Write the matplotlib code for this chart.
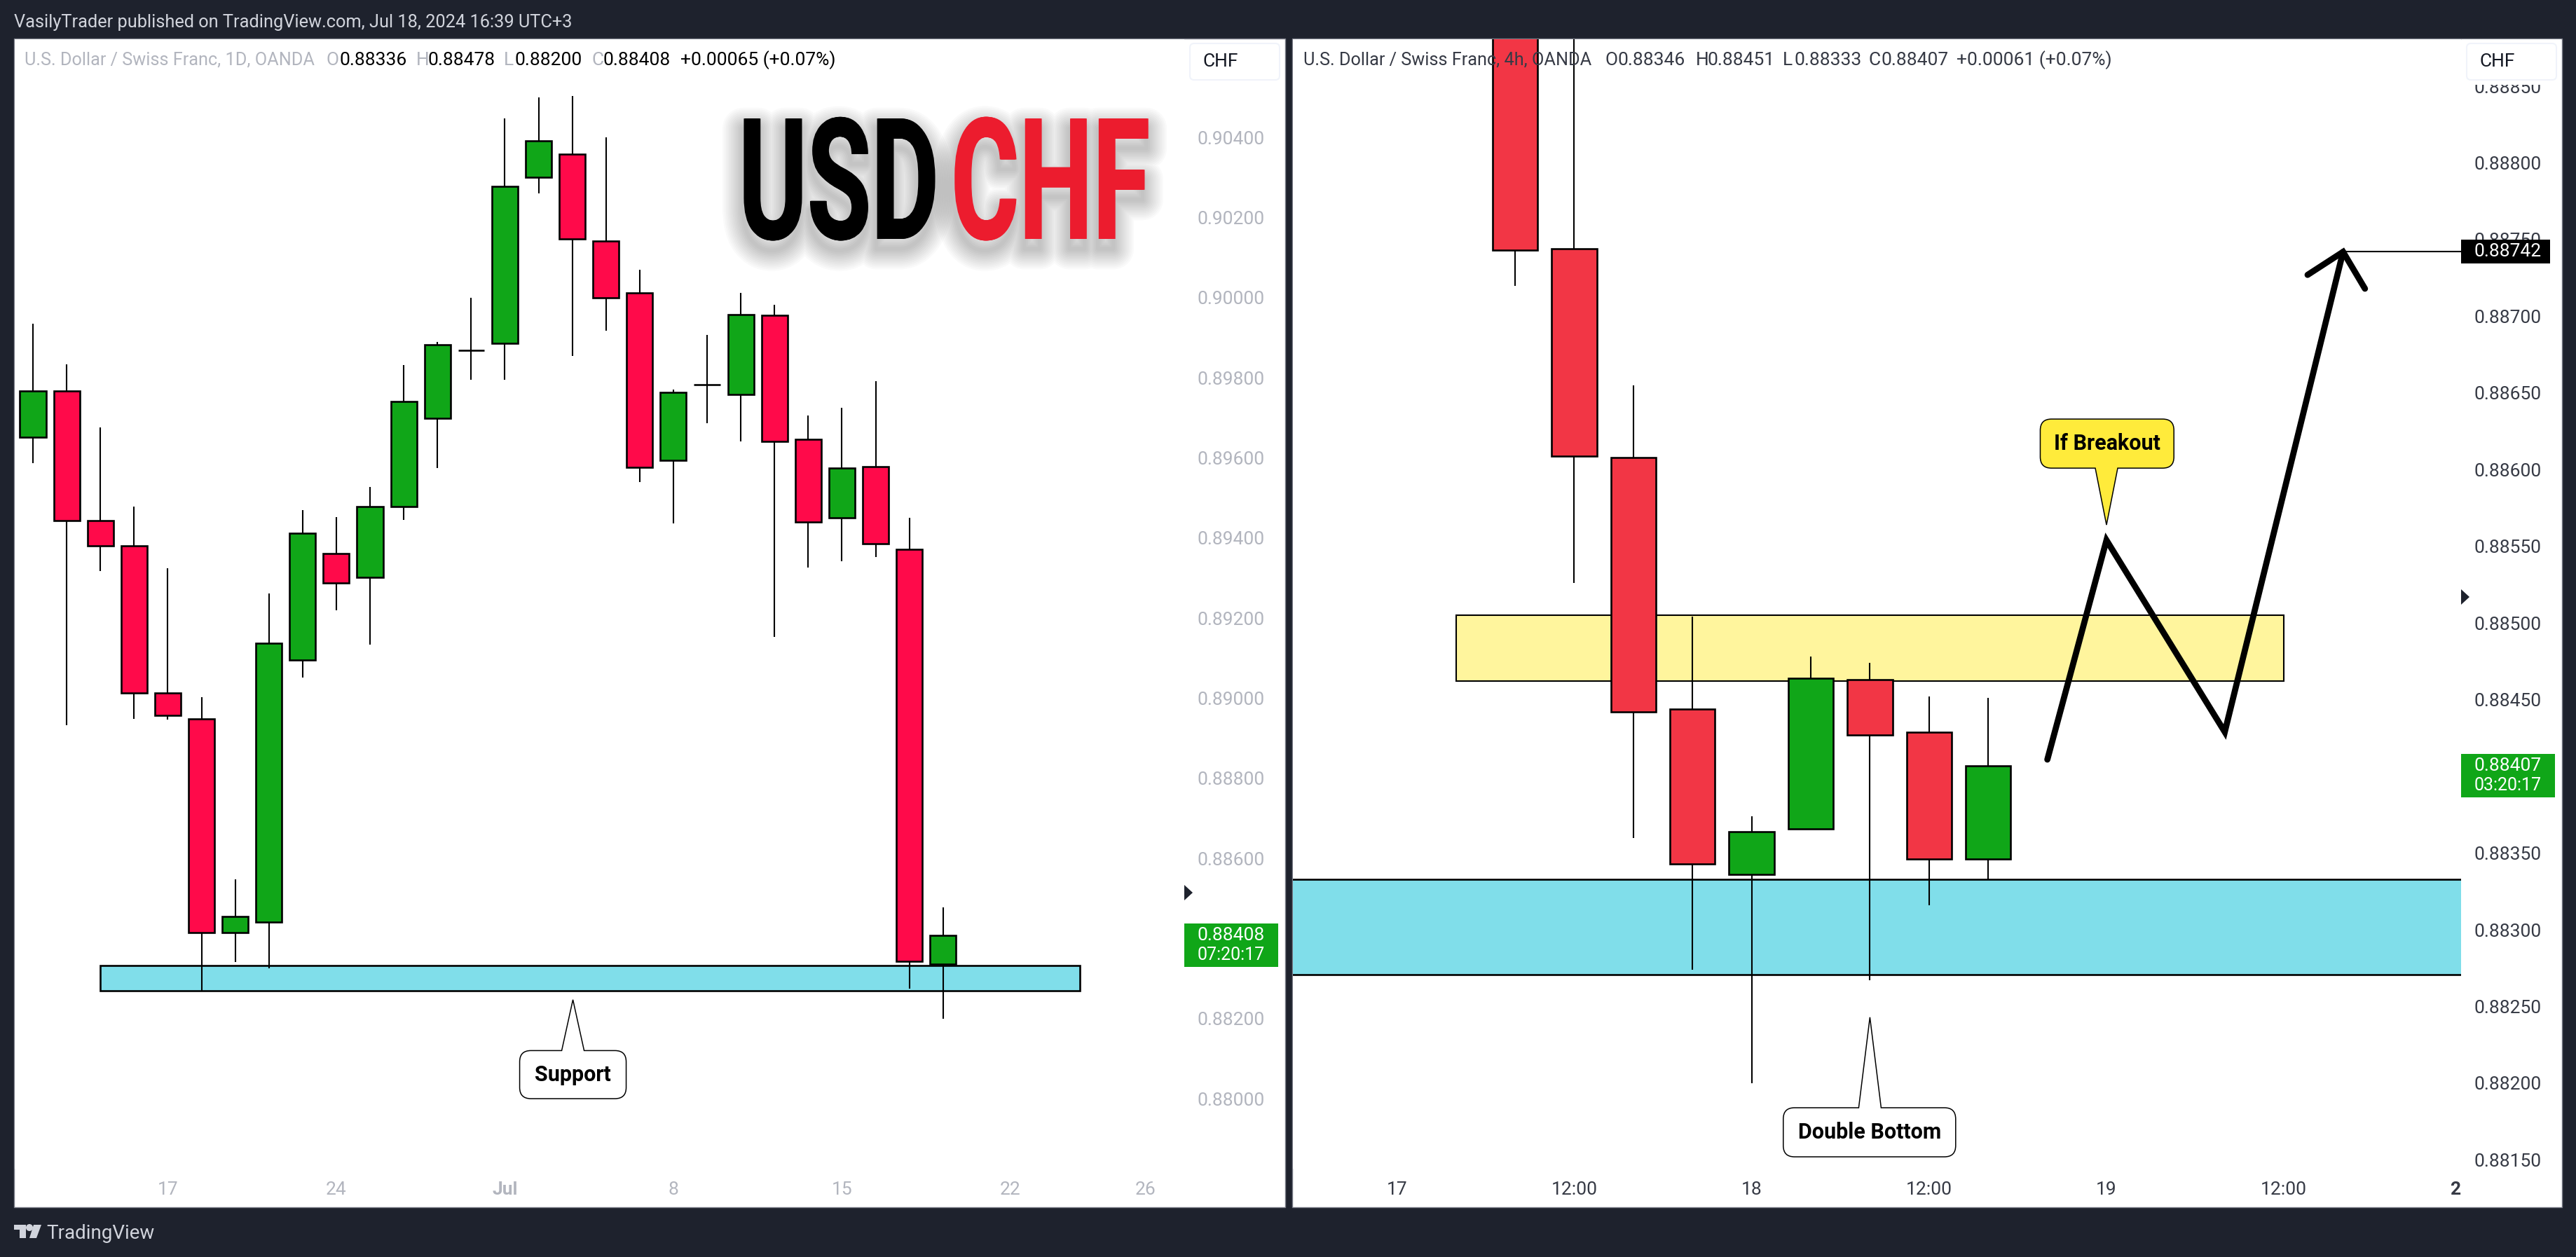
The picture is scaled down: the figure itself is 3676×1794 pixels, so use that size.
import matplotlib
matplotlib.use("Agg")
import matplotlib.pyplot as plt
from matplotlib.patches import Rectangle, Polygon, PathPatch, FancyBboxPatch, Circle
from matplotlib.path import Path
from matplotlib.patheffects import AbstractPathEffect
from matplotlib.transforms import Affine2D, Bbox, IdentityTransform

W, H = 3676, 1794
plt.rcParams["font.family"] = ["Roboto", "DejaVu Sans"]

# daily candles, left pane
d_open = [0.89652, 0.89766, 0.89443, 0.89380, 0.89012, 0.88948, 0.88415, 0.88441, 0.89095, 0.89361,
          0.89302, 0.89479, 0.89699, 0.89868, 0.89885, 0.90300, 0.90358, 0.90141, 0.90011, 0.89593,
          0.89782, 0.89758, 0.89955, 0.89646, 0.89451, 0.89578, 0.89371, 0.88336]
d_high = [0.89934, 0.89833, 0.89675, 0.89478, 0.89324, 0.89003, 0.88547, 0.89261, 0.89470, 0.89452,
          0.89527, 0.89831, 0.89889, 0.89999, 0.90448, 0.90499, 0.90504, 0.90400, 0.90069, 0.89770,
          0.89906, 0.90012, 0.89982, 0.89706, 0.89725, 0.89791, 0.89450, 0.88478]
d_low = [0.89586, 0.88933, 0.89317, 0.88948, 0.88946, 0.88269, 0.88341, 0.88325, 0.89052, 0.89219,
         0.89133, 0.89445, 0.89575, 0.89795, 0.89795, 0.90260, 0.89854, 0.89918, 0.89540, 0.89437,
         0.89687, 0.89641, 0.89152, 0.89326, 0.89341, 0.89353, 0.88274, 0.88200]
d_close = [0.89766, 0.89443, 0.89381, 0.89012, 0.88956, 0.88415, 0.88454, 0.89137, 0.89411, 0.89288,
           0.89479, 0.89740, 0.89883, 0.89868, 0.90277, 0.90392, 0.90147, 0.89999, 0.89576, 0.89764,
           0.89782, 0.89957, 0.89640, 0.89440, 0.89575, 0.89385, 0.88343, 0.88408]
d_ticks = [0.880, 0.882, 0.884, 0.886, 0.888, 0.890, 0.892, 0.894, 0.896, 0.898, 0.900, 0.902, 0.904]
d_dates = ["17", "24", "Jul", "8", "15", "22", "26"]
d_date_pos = [4, 9, 14, 19, 24, 29, 33]
d_zone = (2, 31.05, 0.88269, 0.88333)

# 4h candles, right pane
h_open = [0.88900, 0.88744, 0.88608, 0.88444, 0.88336, 0.88366, 0.88463, 0.88429, 0.88346]
h_high = [0.88920, 0.88950, 0.88655, 0.88504, 0.88374, 0.88478, 0.88474, 0.88452, 0.88451]
h_low = [0.88720, 0.88526, 0.88360, 0.88274, 0.88200, 0.88366, 0.88267, 0.88316, 0.88333]
h_close = [0.88743, 0.88609, 0.88442, 0.88343, 0.88364, 0.88464, 0.88427, 0.88346, 0.88407]
h_ticks = [0.8815, 0.8820, 0.8825, 0.8830, 0.8835, 0.8840, 0.8845, 0.8850, 0.8855, 0.8860, 0.8865, 0.8870, 0.8875, 0.8880, 0.8885]
h_dates = ["17", "12:00", "18", "12:00", "19", "12:00", "2"]
h_date_pos = [-2, 1, 4, 7, 10, 13, 15.9]
h_yellow = (-1, 13, 0.88462, 0.88505)
h_blue = (0.88271, 0.88333)
path_x = [9, 10, 12, 14]
path_y = [0.88411, 0.88554, 0.88429, 0.88742]
head_x = [13.4, 14, 14.37]
head_y = [0.88727, 0.88742, 0.88718]

BG = "#1e222d"
GREEN = "#10a618"
GREY = "#b2b5be"
DARK = "#363a45"
CYAN = "#80deea"
LOGO = "#d1d4dc"


def fx(x):
    return x / W


def fy(y):
    return 1 - y / H


def px_rect(fig, x0, y0, x1, y1, **kw):
    r = Rectangle((fx(x0), fy(y1)), (x1 - x0) / W, (y1 - y0) / H, transform=fig.transFigure, **kw)
    fig.add_artist(r)
    return r


def px_text(fig, x, y, s, **kw):
    kw.setdefault("va", "center")
    kw.setdefault("fontsize", 19)
    return fig.text(fx(x), fy(y), s, **kw)


def px_poly(fig, pts, **kw):
    p = Polygon([(fx(x), fy(y)) for x, y in pts], transform=fig.transFigure, **kw)
    fig.add_artist(p)


class Squeeze(AbstractPathEffect):
    # narrows the glyphs, no condensed bold font is installed; soft shadow below
    def __init__(self, sx, fatten=1):
        super().__init__()
        self.sx = sx
        self.fatten = fatten

    def draw_path(self, renderer, gc, tpath, affine, rgbFace=None):
        aff = Affine2D().scale(self.sx, 1) + affine
        for i in range(12):
            g = renderer.new_gc()
            g.copy_properties(gc)
            g.set_alpha(0.02)
            g.set_linewidth(4 + i * 3.5)
            g.set_foreground((0, 0, 0))
            renderer.draw_path(g, tpath, aff + Affine2D().translate(-2, -14), None)
            g.restore()
        for dx in range(-self.fatten, self.fatten + 1):
            g = renderer.new_gc()
            g.copy_properties(gc)
            g.set_linewidth(0)
            renderer.draw_path(g, tpath, aff + Affine2D().translate(dx, 0), rgbFace)
            g.restore()


def narrow_title(fig, x, y, s, color, sx):
    t = px_text(fig, x, y, s, color=color, fontsize=174, fontweight="bold", va="baseline", zorder=4)
    t.set_path_effects([Squeeze(sx)])
    full = t.get_window_extent

    def extent(renderer=None, dpi=None):
        b = full(renderer, dpi)
        return Bbox.from_extents(b.x0, b.y0, b.x0 + b.width * sx, b.y1)

    t.get_window_extent = extent
    return t


def make_axes(fig, x0, x1, y0, y1, idx0, step, price_ref, y_ref, scale):
    ax = fig.add_axes([fx(x0), fy(y1), (x1 - x0) / W, (y1 - y0) / H])
    ax.set_xlim((x0 - idx0) / step, (x1 - idx0) / step)
    ax.set_ylim(price_ref - (y1 - y_ref) / scale, price_ref + (y_ref - y0) / scale)
    for s in ax.spines.values():
        s.set_visible(False)
    ax.yaxis.tick_right()
    ax.tick_params(axis="both", length=0)
    return ax


def candles(ax, o, h, l, c, red, width):
    x = list(range(len(o)))
    colors = [GREEN if cc >= oo else red for oo, cc in zip(o, c)]
    ax.vlines(x, l, h, color="black", lw=1.5, zorder=2)
    bottoms = [min(a, b) for a, b in zip(o, c)]
    heights = [abs(a - b) for a, b in zip(o, c)]
    ax.bar(x, heights, width, bottoms, color=colors, edgecolor="black", lw=1.9, zorder=3)


def callout(ax, tip, box, base_w, text, fc, fontsize=22):
    # box = (x0, x1, p0, p1) in data units, the outline is built in pixels
    (tx, ty) = ax.transData.transform(tip)
    (x0, y0) = ax.transData.transform((box[0], box[2]))
    (x1, y1) = ax.transData.transform((box[1], box[3]))
    r = 16
    cx = tx
    b = base_w / 2
    v = [(x0 + r, y1)]
    k = [Path.MOVETO]
    if ty > y1:
        v += [(cx - b, y1), (tx, ty), (cx + b, y1)]
        k += [Path.LINETO] * 3
    v += [(x1 - r, y1), (x1, y1), (x1, y1 - r), (x1, y0 + r), (x1, y0), (x1 - r, y0)]
    k += [Path.LINETO, Path.CURVE3, Path.CURVE3, Path.LINETO, Path.CURVE3, Path.CURVE3]
    if ty < y0:
        v += [(cx + b, y0), (tx, ty), (cx - b, y0)]
        k += [Path.LINETO] * 3
    v += [(x0 + r, y0), (x0, y0), (x0, y0 + r), (x0, y1 - r), (x0, y1), (x0 + r, y1), (x0 + r, y1)]
    k += [Path.LINETO, Path.CURVE3, Path.CURVE3, Path.LINETO, Path.CURVE3, Path.CURVE3, Path.CLOSEPOLY]
    ax.add_patch(PathPatch(Path(v, k), transform=IdentityTransform(), fc=fc, ec="black", lw=1.1, zorder=6))
    ax.text((box[0] + box[1]) / 2, (box[2] + box[3]) / 2, text, ha="center", va="center",
            fontsize=fontsize, fontweight="bold", color="black", zorder=7)


fig = plt.figure(figsize=(W / 100, H / 100), dpi=100, facecolor=BG)

# white panels
px_rect(fig, 20, 55, 1834, 1723, fc="white", ec="#787b86", lw=1, zorder=-1)
px_rect(fig, 1844, 55, 3656, 1723, fc="white", ec="#787b86", lw=1, zorder=-1)

# left pane
ax1 = make_axes(fig, 21, 1690, 56, 1668, 47, 48.1, 0.904, 196, 57167)
ax1.add_patch(Rectangle((d_zone[0], d_zone[2]), d_zone[1] - d_zone[0], d_zone[3] - d_zone[2],
                        fc=CYAN, ec="black", lw=1.9, zorder=1))
candles(ax1, d_open, d_high, d_low, d_close, "#ff0a4a", 0.77)
ax1.set_yticks(d_ticks, [f"{t:.5f}" for t in d_ticks], fontsize=19, color=GREY)
ax1.set_xticks(d_date_pos, d_dates, fontsize=19, color=GREY)
ax1.get_xticklabels()[2].set_fontweight("bold")
ax1.tick_params(axis="y", pad=13.5)
ax1.tick_params(axis="x", pad=13)
callout(ax1, (16.02, 0.88247), (14.44, 17.6, 0.88, 0.8812), 32, "Support", "white")

# right pane
ax2 = make_axes(fig, 1845, 3512, 56, 1668, 2162, 84.4, 0.888, 232.5, 218908)
ax2.axhspan(h_blue[0], h_blue[1], fc=CYAN, ec="none", zorder=1)
ax2.axhline(h_blue[0], color="black", lw=1.9, zorder=1)
ax2.axhline(h_blue[1], color="black", lw=1.9, zorder=1)
ax2.add_patch(Rectangle((h_yellow[0], h_yellow[2]), h_yellow[1] - h_yellow[0], h_yellow[3] - h_yellow[2],
                        fc="#fff59d", ec="black", lw=1.5, zorder=1))
candles(ax2, h_open, h_high, h_low, h_close, "#f23645", 0.765)
ax2.set_yticks(h_ticks, [f"{t:.5f}" for t in h_ticks], fontsize=19, color=DARK)
ax2.set_xticks(h_date_pos, h_dates, fontsize=19, color=DARK)
ax2.get_xticklabels()[-1].set_fontweight("bold")
ax2.tick_params(axis="y", pad=13.5)
ax2.tick_params(axis="x", pad=13)
ax2.plot(path_x, path_y, color="black", lw=6.3, solid_joinstyle="miter", solid_capstyle="round", zorder=5)
ax2.plot(head_x, head_y, color="black", lw=6.3, solid_joinstyle="miter", solid_capstyle="round", zorder=5)
ax2.plot([path_x[-1], ax2.get_xlim()[1]], [path_y[-1], path_y[-1]], color="black", lw=1.5, zorder=5)
callout(ax2, (6, 0.88243), (4.535, 7.45, 0.88152, 0.88184), 32, "Double Bottom", "white")
callout(ax2, (10, 0.88564), (8.88, 11.14, 0.88601, 0.88633), 32, "If Breakout", "#ffeb3b")

# price axis top cover, clips the 0.88850 label
px_rect(fig, 3513, 56, 3655, 121, fc="white", ec="none", zorder=2)

# header and footer
px_text(fig, 20, 32, "VasilyTrader published on TradingView.com, Jul 18, 2024 16:39 UTC+3", color=LOGO, fontsize=18.3)
px_text(fig, 66, 1760, "TradingView", color=LOGO, fontsize=20)
px_poly(fig, [(20, 1748), (37, 1748), (37, 1767), (28, 1767), (28, 1755), (20, 1755)], fc=LOGO, ec="none")
px_poly(fig, [(48, 1748), (59, 1748), (52, 1767), (42, 1767)], fc=LOGO, ec="none")
fig.add_artist(Circle((42, H - 1752), 5, transform=IdentityTransform(), fc=LOGO, ec="none"))

# legends
px_text(fig, 35, 86, "U.S. Dollar / Swiss Franc, 1D, OANDA", color=GREY, fontsize=18.2)
for x, s, col in [(466, "O", GREY), (484, "0.88336", "black"), (594, "H", GREY), (611, "0.88478", "black"),
                  (719, "L", GREY), (734, "0.88200", "black"), (844, "C", GREY), (861, "0.88408", "black"),
                  (971, "+0.00065 (+0.07%)", "black")]:
    px_text(fig, x, 86, s, color=col)
px_text(fig, 1860, 86, "U.S. Dollar / Swiss Franc, 4h, OANDA", color=DARK, fontsize=18.2)
for x, s in [(2291, "O"), (2308, "0.88346"), (2420, "H"), (2437, "0.88451"), (2544, "L"), (2560, "0.88333"),
             (2667, "C"), (2685, "0.88407"), (2792, "+0.00061 (+0.07%)")]:
    px_text(fig, x, 86, s, color=DARK)

# currency buttons
for x0 in (1698, 3520):
    fig.add_artist(FancyBboxPatch((x0 + 6, H - 108), 116, 40, boxstyle="round,pad=6,rounding_size=6",
                                  transform=IdentityTransform(), fc="white", ec="#f0f3fa", lw=1.5, zorder=3))
    px_text(fig, x0 + 18, 88, "CHF", color="#131722", zorder=4)

# price labels
for x0, x1, y0, y1, t1, t2 in [(1690, 1824, 1318, 1380, "0.88408", "07:20:17"),
                               (3512, 3646, 1076, 1138, "0.88407", "03:20:17")]:
    px_rect(fig, x0, y0, x1, y1, fc=GREEN, ec="none", zorder=3)
    px_text(fig, x0 + 19, y0 + 17, t1, color="white", zorder=4)
    px_text(fig, x0 + 19, y0 + 45, t2, color="white", zorder=4, fontsize=18)
px_rect(fig, 3512, 342, 3639, 376, fc="black", ec="none", zorder=3)
px_text(fig, 3531, 359, "0.88742", color="white", zorder=4)

# small arrows on the price scale
for x, y in [(1690, 1274), (3512, 852)]:
    px_poly(fig, [(x, y - 11), (x + 12, y), (x, y + 11)], fc=BG, ec="none", zorder=3)

# big title
narrow_title(fig, 1054, 341, "USD", "black", 0.615)
narrow_title(fig, 1357, 341, "CHF", "#ec1c2e", 0.615)

fig.savefig("out.png", dpi=100, facecolor=BG)
